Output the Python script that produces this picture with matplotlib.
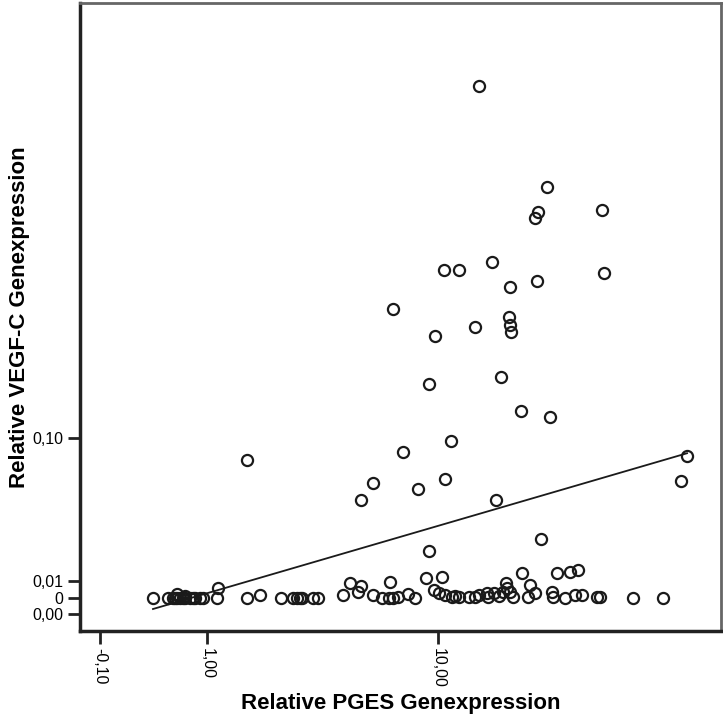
import numpy as np
import matplotlib
matplotlib.use("Agg")
import matplotlib.pyplot as plt

plt.rcParams["font.family"] = ["Liberation Sans", "DejaVu Sans"]

# PGES (x) and VEGF-C (y) relative expression per sample
pges_high = [13.89, 23.60, 22.01, 21.51, 35.92, 15.39, 10.51, 11.85, 21.85, 17.73,
             36.48, 6.91, 17.59, 17.73, 17.87, 13.47, 9.77, 16.53, 9.31, 19.31,
             24.16, 11.11, 7.51, 1.68, 68.16, 10.59, 5.82, 8.51, 65.14, 15.89,
             5.24, 22.56, 9.31]
vegfc_high = [0.357, 0.278, 0.259, 0.2545, 0.2605, 0.222, 0.216, 0.216, 0.208, 0.204,
              0.214, 0.188, 0.182, 0.177, 0.172, 0.175, 0.169, 0.141, 0.136, 0.118,
              0.114, 0.098, 0.091, 0.0857, 0.088, 0.0734, 0.0708, 0.067, 0.0721, 0.060,
              0.060, 0.0356, 0.0282]

pges_low = [0.343, 0.500, 0.557, 0.581, 0.604, 0.640, 0.676, 0.702, 0.765, 0.833,
            0.901, 0.943, 1.155, 0.604, 1.171, 1.68, 1.962, 2.442, 2.782, 2.882,
            2.983, 3.043, 3.383, 3.543, 4.464, 4.744, 5.104, 5.244, 5.825, 6.285,
            6.665, 6.725, 6.905, 7.205, 7.806, 8.286, 9.067, 10.33, 9.687, 10.11,
            10.61, 11.21, 11.81, 12.81, 13.91, 14.81, 14.93, 15.61, 16.79, 17.21,
            17.31, 17.73, 18.15, 19.45, 20.71, 21.51, 20.39, 24.54, 24.72, 25.50,
            28.16, 29.94, 27.10, 29.26, 30.86, 34.58, 35.38, 45.43, 56.92, 11.51,
            13.41, 16.21, 0.702, 0.803]
vegfc_low = [-0.0005, -0.0005, -0.0005, -0.0005, -0.0005, -0.0005, -0.0005, -0.0005, -0.0005, -0.0005,
             -0.0005, -0.0005, -0.0005, 0.0022, 0.006, -0.0005, 0.0016, -0.0005, -0.0005, -0.0005,
             -0.0005, -0.0005, -0.0002, -0.0002, 0.0016, 0.0088, 0.0034, 0.0072, 0.0016, -0.0002,
             -0.0002, 0.0094, -0.0002, 0.0004, 0.0022, -0.0002, 0.0118, 0.0124, 0.0046, 0.003,
             0.0016, 0.0004, 0.0004, 0.0004, 0.0016, 0.0028, 0.0004, 0.0028, 0.0034, 0.0088,
             0.0058, 0.0034, 0.0004, 0.0148, 0.0076, 0.0028, 0.0004, 0.0034, 0.0004, 0.0148,
             0.0154, 0.0166, -0.0002, 0.0016, 0.0016, 0.0004, 0.0004, -0.0005, -0.0005, 0.0010,
             0.0004, 0.0010, 0.0010, -0.0005]

# end points of the linear fit line
fit_x = [0.343, 68.16]
fit_y = [-0.0068, 0.090]

x_ticks = [-0.1, 1.0, 10.0]
x_ticklabels = ["-0,10", "1,00", "10,00"]
y_ticks = [-0.01, 0.0, 0.01, 0.1]
y_ticklabels = ["0,00", "0", "0,01", "0,10"]


def fwd(v):
    v = np.asarray(v, dtype=float)
    return np.sign(v) * np.log10(1 + np.abs(v))


def inv(v):
    v = np.asarray(v, dtype=float)
    return np.sign(v) * (10 ** np.abs(v) - 1)


fig = plt.figure(figsize=(7.23, 7.15), dpi=100)
ax = fig.add_axes([80 / 723, 84 / 715, 641 / 723, 628 / 715])
ax.set_xscale("function", functions=(fwd, inv))
ax.set_yscale("function", functions=(fwd, inv))

ax.plot(fit_x, fit_y, color="#1a1a1a", lw=1.3, zorder=2)
ax.plot(pges_low + pges_high, vegfc_low + vegfc_high, ls="none", marker="o", ms=8,
        mfc="none", mec="#1a1a1a", mew=1.6, zorder=3)

ax.set_xlim(-0.276, 87.86)
ax.set_ylim(-0.0201, 0.426)

ax.set_xticks(x_ticks)
ax.set_xticklabels(x_ticklabels, rotation=-90, fontsize=11.5)
ax.set_yticks(y_ticks)
ax.set_yticklabels(y_ticklabels, fontsize=11.5)
ax.minorticks_off()
ax.tick_params(direction="out", length=9, width=2, color="#222222", pad=3)

for side in ("left", "bottom"):
    ax.spines[side].set_linewidth(2.5)
    ax.spines[side].set_color("#222222")
for side in ("top", "right"):
    ax.spines[side].set_linewidth(2)
    ax.spines[side].set_color("#666666")

ax.set_xlabel("Relative PGES Genexpression", fontsize=16, fontweight="bold", labelpad=4)
ax.set_ylabel("Relative VEGF-C Genexpression", fontsize=16, fontweight="bold", labelpad=2)

fig.savefig("out.png", dpi=100)
